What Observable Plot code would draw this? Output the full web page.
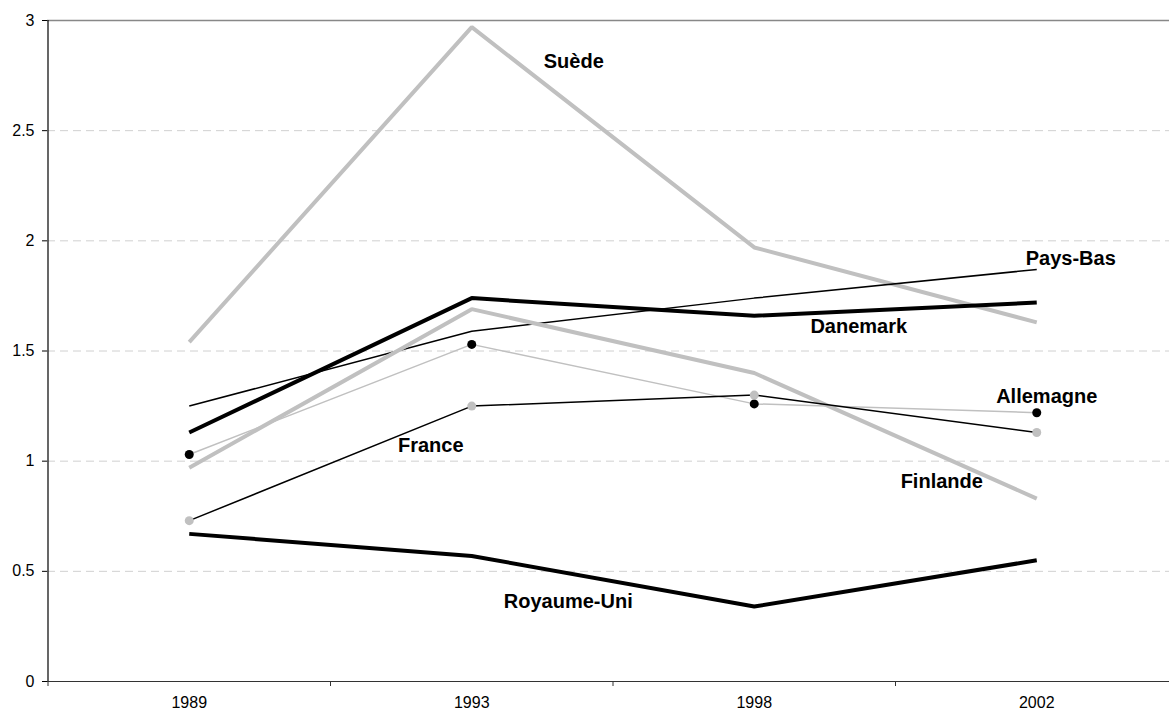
<!DOCTYPE html>
<html>
<head>
<meta charset="utf-8">
<script src="https://cdn.jsdelivr.net/npm/d3@7"></script>
<script src="https://cdn.jsdelivr.net/npm/@observablehq/plot@0.6"></script>
<style>
  html, body { margin: 0; padding: 0; background: #fff; overflow: hidden; }
  #chart svg { display: block; }
</style>
</head>
<body>
<div id="chart"></div>
<script>
// ---- Data ----
const years = ["1989", "1993", "1998", "2002"];
const yTicks = [0, 0.5, 1, 1.5, 2, 2.5, 3];

const suede      = [1.54, 2.97, 1.97, 1.63];
const danemark   = [1.13, 1.74, 1.66, 1.72];
const paysBas    = [1.25, 1.59, 1.74, 1.87];
const finlande   = [0.97, 1.69, 1.40, 0.83];
const allemagne  = [1.03, 1.53, 1.26, 1.22];
const france     = [0.73, 1.25, 1.30, 1.13];
const royaumeUni = [0.67, 0.57, 0.34, 0.55];

const seriesNames = ["Suède", "Danemark", "Pays-Bas", "Finlande", "Allemagne", "France", "Royaume-Uni"];
const seriesValues = [suede, danemark, paysBas, finlande, allemagne, france, royaumeUni];

// ---- Styles ----
const GRAY = "#c0c0c0";
const styles = {
  "Suède":       {stroke: GRAY,   width: 4},
  "Danemark":    {stroke: "#000", width: 4},
  "Pays-Bas":    {stroke: "#000", width: 1.5},
  "Finlande":    {stroke: GRAY,   width: 4},
  "Allemagne":   {stroke: GRAY,   width: 1.5, dot: "#000"},
  "France":      {stroke: "#000", width: 1.5, dot: GRAY},
  "Royaume-Uni": {stroke: "#000", width: 4}
};
// label anchored to a point of its series (index), offset in px
const labelStyle = {
  "Suède":       {at: 1, dx: 102,  dy: 34},
  "Pays-Bas":    {at: 3, dx: 34,   dy: -10.5},
  "Danemark":    {at: 2, dx: 104.5, dy: 11},
  "Allemagne":   {at: 3, dx: 10,   dy: -16},
  "Finlande":    {at: 3, dx: -95,  dy: -17},
  "France":      {at: 1, dx: -41,  dy: 40},
  "Royaume-Uni": {at: 2, dx: -186, dy: -5}
};

const rows = (vals) => vals.map((v, i) => ({x: i + 0.5, y: v}));

const marks = [
  Plot.ruleY(yTicks.filter(d => d > 0 && d < 3), {stroke: "#d0d0d0", strokeDasharray: "8,5", strokeWidth: 1}),
  Plot.ruleY([3], {stroke: "#888", strokeWidth: 1.5}),
  Plot.ruleY([0], {stroke: "#333", strokeWidth: 1.2}),
  Plot.ruleX([0], {y1: 0, y2: 3, stroke: "#000", strokeWidth: 1.2}),
  Plot.axisY({ticks: yTicks, tickSize: 5, tickPadding: 8, tickFormat: d => String(d), fontSize: 16, label: null}),
  Plot.axisX({ticks: d3.range(0, years.length + 1), tickSize: 5, tickFormat: () => "", label: null, stroke: "#333"}),
  Plot.axisX({ticks: years.map((_, i) => i + 0.5), tickSize: 0, tickPadding: 15, tickFormat: d => years[d - 0.5], fontSize: 16, label: null})
];

seriesNames.forEach((name, k) => {
  const s = styles[name];
  marks.push(Plot.line(rows(seriesValues[k]), {x: "x", y: "y", stroke: s.stroke, strokeWidth: s.width, strokeLinejoin: "miter", strokeLinecap: "butt"}));
});
seriesNames.forEach((name, k) => {
  const s = styles[name];
  if (s.dot) marks.push(Plot.dot(rows(seriesValues[k]), {x: "x", y: "y", r: 4.5, fill: s.dot, stroke: "none"}));
});
seriesNames.forEach((name, k) => {
  const l = labelStyle[name];
  const v = seriesValues[k][l.at];
  marks.push(Plot.text([{x: l.at + 0.5, y: v, t: name}], {
    x: "x", y: "y", text: "t", dx: l.dx, dy: l.dy,
    fontSize: 20, fontWeight: "bold", fill: "#000", textAnchor: "middle", lineAnchor: "middle"
  }));
});

const chart = Plot.plot({
  width: 1169,
  height: 713,
  marginLeft: 47,
  marginRight: 0,
  marginTop: 20,
  marginBottom: 32,
  style: {fontFamily: "'Liberation Sans', Arial, sans-serif", background: "#fff", color: "#000", overflow: "visible"},
  x: {type: "linear", domain: [0, years.length], range: [47.5, 1177.5]},
  y: {domain: [0, 3]},
  marks
});
document.getElementById("chart").appendChild(chart);
</script>
</body>
</html>
